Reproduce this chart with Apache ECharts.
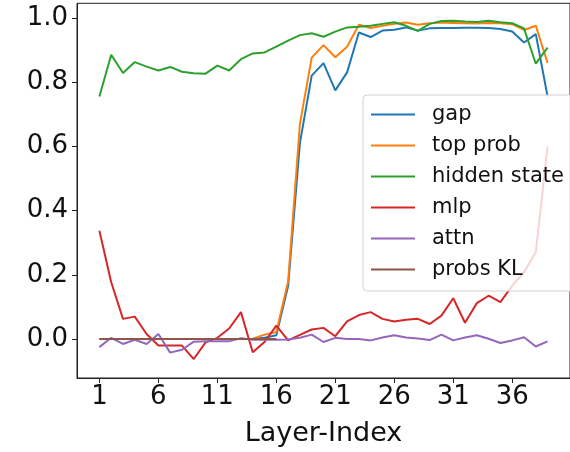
<!DOCTYPE html>
<html>
<head>
<meta charset="utf-8">
<script src="https://cdn.jsdelivr.net/npm/echarts@6/dist/echarts.min.js"></script>
<style>
html,body{margin:0;padding:0;background:#fff;}
#chart{width:570px;height:452px;}
</style>
</head>
<body>
<div id="chart"></div>
<script>
const layers = Array.from({length: 39}, (_, i) => i + 1);
const xTicks = [1, 6, 11, 16, 21, 26, 31, 36];
const yTicks = [0, 0.2, 0.4, 0.6, 0.8, 1.0];

const gap = [0,0,0,0,0,0,0,0,0,0,0,0,0,0.0,0.004,0.012,0.165,0.61,0.82,0.859,0.774,0.830,0.954,0.940,0.960,0.963,0.970,0.960,0.967,0.968,0.968,0.969,0.969,0.968,0.965,0.957,0.923,0.949,0.755];
const topProb = [0,0,0,0,0,0,0,0,0,0,0,0,0,0.001,0.014,0.022,0.18,0.67,0.876,0.915,0.877,0.910,0.978,0.968,0.975,0.981,0.985,0.978,0.983,0.985,0.984,0.983,0.982,0.984,0.983,0.980,0.962,0.975,0.859];
const hiddenState = [0.755,0.885,0.828,0.862,0.848,0.836,0.847,0.832,0.827,0.826,0.851,0.836,0.871,0.889,0.892,0.910,0.929,0.946,0.952,0.941,0.957,0.970,0.972,0.975,0.981,0.986,0.975,0.959,0.981,0.990,0.991,0.988,0.987,0.991,0.986,0.983,0.967,0.857,0.907];
const mlp = [0.337,0.177,0.063,0.070,0.016,-0.020,-0.020,-0.020,-0.062,-0.010,0.004,0.033,0.084,-0.041,-0.009,0.042,-0.004,0.013,0.030,0.035,0.009,0.055,0.075,0.084,0.063,0.055,0.060,0.063,0.047,0.073,0.127,0.051,0.112,0.135,0.115,0.166,0.208,0.270,0.60];
const attn = [-0.025,0.004,-0.015,-0.002,-0.015,0.016,-0.042,-0.033,-0.008,-0.007,-0.007,-0.007,0.003,-0.002,-0.002,-0.002,-0.001,0.004,0.014,-0.009,0.004,0.0,0.0,-0.004,0.005,0.012,0.005,0.002,-0.003,0.014,-0.004,0.005,0.012,0.001,-0.012,-0.004,0.006,-0.023,-0.007];
const probsKL = [0,0,0,0,0,0,0,0,0,0,0,0,0,0,0,0,null,null,null,null,null,null,null,null,null,null,null,null,null,null,null,null,null,null,null,null,null,null,null];

const seriesNames = ['gap', 'top prob', 'hidden state', 'mlp', 'attn', 'probs KL'];
const seriesData = [gap, topProb, hiddenState, mlp, attn, probsKL];
const colors = ['#1f77b4', '#ff7f0e', '#2ca02c', '#d62728', '#9467bd', '#8c564b'];

const font = 'DejaVu Sans';
const chart = echarts.init(document.getElementById('chart'), null, {renderer: 'canvas'});

chart.setOption({
  animation: false,
  backgroundColor: '#fff',
  grid: {left: 77, right: -13, top: 3.3, bottom: 72.7, show: true, borderColor: '#222', borderWidth: 1, backgroundColor: 'transparent'},
  xAxis: {
    type: 'value', min: -0.9, max: 40.9,
    name: 'Layer-Index', nameLocation: 'middle', nameGap: 42,
    nameTextStyle: {fontFamily: font, fontSize: 27, color: '#111'},
    axisLine: {show: true, onZero: false, lineStyle: {color: '#222', width: 1}},
    axisTick: {show: true, length: 5, customValues: xTicks, lineStyle: {color: '#222'}},
    axisLabel: {show: true, customValues: xTicks, margin: 6, fontFamily: font, fontSize: 26, color: '#111'},
    splitLine: {show: false}
  },
  yAxis: {
    type: 'value', min: -0.121, max: 1.045,
    axisLine: {show: true, onZero: false, lineStyle: {color: '#222', width: 1}},
    axisTick: {show: true, length: 5, customValues: yTicks, lineStyle: {color: '#222'}},
    axisLabel: {show: true, customValues: yTicks, margin: 9, fontFamily: font, fontSize: 26, color: '#111',
      formatter: v => v.toFixed(1)},
    splitLine: {show: false}
  },
  legend: {
    show: true, orient: 'vertical', left: 363, top: 95,
    padding: [4, 16, 6, 8],
    itemWidth: 44, itemHeight: 2, itemGap: 0,
    backgroundColor: 'rgba(255,255,255,0.8)',
    borderColor: '#d0d0d0', borderWidth: 1, borderRadius: 4,
    textStyle: {fontFamily: font, fontSize: 21, color: '#111', lineHeight: 31, padding: [0, 0, 0, 12]},
    data: seriesNames.map((n, i) => ({name: n, icon: 'rect', itemStyle: {color: colors[i]}}))
  },
  series: seriesNames.map((n, i) => ({
    name: n, type: 'line',
    data: layers.map((x, j) => [x, seriesData[i][j]]),
    showSymbol: false, symbol: 'none',
    lineStyle: {color: colors[i], width: 2},
    itemStyle: {color: colors[i]},
    connectNulls: false
  }))
});
</script>
</body>
</html>
